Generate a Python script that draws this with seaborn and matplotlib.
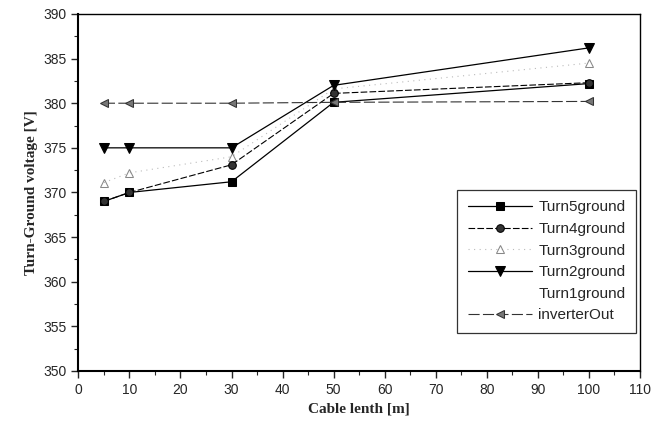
import matplotlib
matplotlib.use("Agg")
import matplotlib.pyplot as plt
import matplotlib.ticker as mticker
import seaborn as sns
import numpy as np
import pandas as pd

# dados
comprimento = [5, 10, 30, 50, 100]
turn5 = [369.0, 370.0, 371.2, 380.1, 382.2]
turn4 = [369.0, 370.0, 373.1, 381.1, 382.3]
turn3 = [371.1, 372.2, 374.0, 381.6, 384.5]
turn2 = [375.0, 375.0, 375.0, 382.0, 386.2]
turn1 = [375.0, 375.0, 375.0, 382.0, 386.2]
inverter = [380.0, 380.0, 380.0, 380.1, 380.2]

series = {
    "Turn5ground": turn5,
    "Turn4ground": turn4,
    "Turn3ground": turn3,
    "Turn2ground": turn2,
    "Turn1ground": turn1,
    "inverterOut": inverter,
}

df = pd.concat(
    [pd.DataFrame({"x": comprimento, "y": v, "serie": k}) for k, v in series.items()],
    ignore_index=True,
)

sns.set_style("white")
plt.rcParams["font.family"] = ["Liberation Sans", "DejaVu Sans"]

estilos = {
    "Turn5ground": dict(color="black", marker="s", linestyle="-", lw=0.9, ms=5.5,
                        mfc="black", mec="black", z=5),
    "Turn4ground": dict(color="black", marker="o", linestyle=(0, (6, 2)), lw=0.8, ms=5.5,
                        mfc="#333333", mec="black", z=5),
    "Turn3ground": dict(color="#bbbbbb", marker="^", linestyle=(0, (1, 4)), lw=0.8, ms=5.5,
                        mfc="none", mec="#888888", z=4),
    "Turn2ground": dict(color="black", marker="v", linestyle="-", lw=0.9, ms=6.5,
                        mfc="black", mec="black", z=5),
    "Turn1ground": dict(color="white", marker="None", linestyle="-", lw=0.0, ms=5,
                        z=1),
    "inverterOut": dict(color="#333333", marker="<", linestyle=(0, (10, 3)), lw=0.8, ms=5.5,
                        mfc="#777777", mec="#333333", z=5),
}

fig, ax = plt.subplots(figsize=(6.53, 4.23), dpi=100)

for nome, grupo in df.groupby("serie", sort=False):
    st = estilos[nome]
    sns.lineplot(data=grupo, x="x", y="y", ax=ax, label=nome,
                 color=st["color"], marker=st["marker"], linestyle=st["linestyle"],
                 linewidth=st["lw"], markersize=st["ms"], zorder=st["z"],
                 markerfacecolor=st.get("mfc", st["color"]),
                 markeredgecolor=st.get("mec", st["color"]))

ax.set_xlim(0, 110)
ax.set_ylim(350, 390)
ax.xaxis.set_major_locator(mticker.MultipleLocator(10))
ax.xaxis.set_minor_locator(mticker.MultipleLocator(5))
ax.yaxis.set_major_locator(mticker.MultipleLocator(5))
ax.yaxis.set_minor_locator(mticker.MultipleLocator(2.5))
ax.tick_params(axis="both", which="major", direction="out", length=5, width=1,
               labelsize=10, bottom=True, left=True)
ax.tick_params(axis="both", which="minor", direction="out", length=3, width=0.8,
               bottom=True, left=True)

for s in ax.spines.values():
    s.set_color("black")
    s.set_linewidth(1.0)
ax.spines["left"].set_linewidth(1.5)
ax.spines["bottom"].set_linewidth(1.5)

ax.set_xlabel("Cable lenth [m]", family=["Liberation Serif", "DejaVu Serif"],
              fontweight="bold", fontsize=11)
ax.set_ylabel("Turn-Ground voltage [V]", family=["Liberation Serif", "DejaVu Serif"],
              fontweight="bold", fontsize=11)

leg = ax.legend(loc="lower right", bbox_to_anchor=(0.993, 0.106), borderaxespad=0,
                fontsize=11, frameon=True, fancybox=False, edgecolor="black",
                handlelength=4.2, labelspacing=0.5, borderpad=0.7, handletextpad=0.4)
leg.get_frame().set_linewidth(0.9)

fig.subplots_adjust(left=0.12, right=0.98, top=0.967, bottom=0.123)
fig.savefig("out.png", dpi=100)
